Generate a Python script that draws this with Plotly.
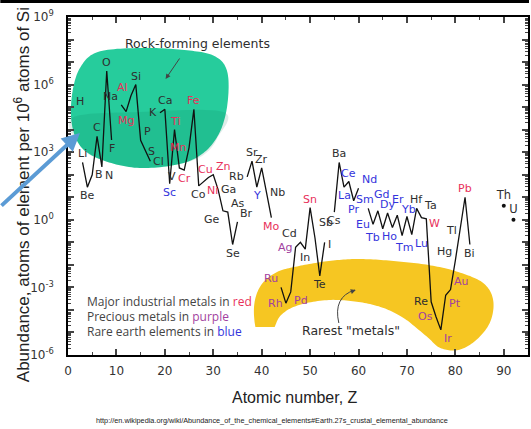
import plotly.graph_objects as go
import numpy as np

# ---------------- data (atoms per 10^6 atoms of Si) ----------------
symbols = ["H","Li","Be","B","C","N","O","F",
           "Na","Mg","Al","Si","P","S","Cl",
           "K","Ca","Sc","Ti","V","Cr","Mn","Fe","Co","Ni","Cu","Zn","Ga","Ge","As","Se","Br",
           "Rb","Sr","Y","Zr","Nb","Mo",
           "Ru","Rh","Pd","Ag","Cd","In","Sn","Sb","Te","I",
           "Cs","Ba","La","Ce","Pr","Nd",
           "Sm","Eu","Gd","Tb","Dy","Ho","Er","Tm","Yb","Lu","Hf","Ta","W","Re","Os","Ir","Pt","Au","Hg","Tl","Pb","Bi"]
atomic_numbers = [1,3,4,5,6,7,8,9,
                  11,12,13,14,15,16,17,
                  19,20,21,22,23,24,25,26,27,28,29,30,31,32,33,34,35,
                  37,38,39,40,41,42,
                  44,45,46,47,48,49,50,51,52,53,
                  55,56,57,58,59,60,
                  62,63,64,65,66,67,68,69,70,71,72,73,74,75,76,77,78,79,80,81,82,83]
abundance = [1.8e5,350,28,100,5000,220,4.0e6,3500,
             1.25e5,6.3e4,3.2e5,1.0e6,3400,1100,400,
             5.6e4,8.0e4,40,1.0e4,200,160,1600,8.0e4,32,50,75,100,22,2.5,2.2,0.08,0.8,
             80,400,28,200,16,1.25,
             1.0e-3,2.0e-4,6.3e-4,0.06,0.1,0.05,3.5,0.16,3.2e-3,0.1,
             2.2,350,28,50,7,25,
             3.2,0.63,2.5,0.4,2.0,0.45,1.6,0.2,1.4,0.22,3.2,1.25,1.1,2.3e-4,5e-5,1.3e-5,4.5e-4,8e-4,0.016,0.35,10,0.08]
label_pos = ["middle right","top center","bottom center","middle right","top center","bottom right","top center","bottom center",
             "top left","bottom center","top left","top center","top right","middle right","middle right",
             "middle left","top center","bottom center","top center","bottom left","bottom center","middle left","top center",
             "bottom center","bottom right","top center","top right","middle right","bottom left","top right","bottom center","top right",
             "middle left","top center","bottom center","top center","middle right","bottom center",
             "top left","middle left","bottom right","middle left","top left","bottom center","top center","top right","bottom center","middle right",
             "bottom center","top center","bottom center","top center","bottom center","top right",
             "top center","middle left","top center","bottom left","top center","bottom center","top center","bottom center","top center",
             "bottom right","top center","top right","middle right","middle left","middle left","bottom right","bottom right","top right",
             "top left","middle left","top center","bottom center"]
# extra pixel nudges for crowded labels (screen px, +x right, +y down)
label_nudge = {"Gd": (4, -8), "Sm": (-3, 0), "Er": (1, -7), "Yb": (2, 1), "Cu": (-3, 0), "Ho": (-3, 0),
               "Tm": (2, 3), "Sb": (1, -7), "I": (0, 2), "Ta": (0, -4), "W": (0, 5)}

red_metals = ["Mg","Al","Ti","Cr","Mn","Fe","Ni","Cu","Zn","Mo","Sn","W","Pb"]
precious = ["Ru","Rh","Pd","Ag","Os","Ir","Pt","Au"]
rare_earth = ["Sc","Y","La","Ce","Pr","Nd","Sm","Eu","Gd","Tb","Dy","Ho","Er","Tm","Yb","Lu"]

actinide_symbols = ["Th","U"]
actinide_z = [90,92]
actinide_abundance = [4.2,1.0]

RED, PURPLE, BLUE, GREY = "#e8305a", "#a23fa0", "#3434dc", "#2e2e2e"

def col(s):
    if s in red_metals: return RED
    if s in precious: return PURPLE
    if s in rare_earth: return BLUE
    return GREY

# line with gaps at missing elements (H stays isolated -> text only)
zl, yl = [], []
prev = None
for z, v in zip(atomic_numbers, abundance):
    if prev is not None and z != prev + 1:
        zl.append(None); yl.append(None)
    zl.append(z); yl.append(v)
    prev = z

# ---------------- pixel helpers for decorations ----------------
L, R, T, B = 68, 530, 17, 355
def px(x): return (x - L) / (R - L)
def py(y): return (B - y) / (B - T)

def smooth_path(pts, n=14):
    pts = np.array(pts, dtype=float)
    N = len(pts)
    out = []
    for i in range(N):
        p0, p1, p2, p3 = pts[i-1], pts[i], pts[(i+1) % N], pts[(i+2) % N]
        for t in np.linspace(0, 1, n, endpoint=False):
            t2, t3 = t*t, t*t*t
            p = 0.5*((2*p1) + (-p0+p2)*t + (2*p0-5*p1+4*p2-p3)*t2 + (-p0+3*p1-3*p2+p3)*t3)
            out.append(p)
    return "M " + " L ".join(f"{px(p[0]):.4f},{py(p[1]):.4f}" for p in out) + " Z"

green_pts = [(98,52),(140,48),(185,50),(215,56),(228,72),(228,105),(220,133),(204,153),(180,164),
             (140,168),(105,161),(82,148),(72,125),(72,95),(80,68)]
green_low = [(72,118),(140,112),(224,112),(218,138),(204,155),(180,164),(140,168),(105,161),(82,148)]
yellow_pts = [(257,330),(255,305),(262,285),(278,272),(300,266),(330,261),(360,259),(395,261),
              (430,265),(460,272),(485,283),(495,300),(492,322),(478,340),(460,350),(442,348),
              (430,338),(418,328),(405,318),(385,308),(360,302),(330,300),(300,305),(282,315),(274,330),(266,340)]

fig = go.Figure()

fig.add_trace(go.Scatter(x=zl, y=yl, mode="lines", line=dict(color="#111111", width=1.3),
                         hoverinfo="skip", showlegend=False))
fig.add_trace(go.Scatter(x=actinide_z, y=actinide_abundance, mode="markers+text",
                         marker=dict(color="#111111", size=4), text=actinide_symbols,
                         textposition="top center", textfont=dict(family="DejaVu Sans", size=11.5, color=GREY),
                         showlegend=False))

shapes = [
    dict(type="path", xref="paper", yref="paper", path=smooth_path(green_pts), layer="below",
         fillcolor="rgb(38,204,156)", line=dict(width=0)),
    dict(type="path", xref="paper", yref="paper", path=smooth_path(green_low), layer="below",
         fillcolor="rgba(0,110,80,0.13)", line=dict(width=0)),
    dict(type="path", xref="paper", yref="paper", path=smooth_path(yellow_pts), layer="below",
         fillcolor="rgb(246,198,34)", line=dict(width=0)),
    dict(type="rect", xref="paper", yref="paper", x0=px(250), x1=px(412), y0=py(352), y1=py(327),
         layer="below", fillcolor="white", line=dict(width=0)),
    dict(type="path", xref="paper", yref="paper",
         path=f"M {px(340)},{py(323)} Q {px(334)},{py(297)} {px(356)},{py(290)}",
         line=dict(color="#444", width=1), layer="above"),
    dict(type="rect", xref="paper", yref="paper", x0=px(0), x1=px(531), y0=py(3), y1=py(0),
         fillcolor="black", line=dict(width=0), layer="above"),
]

ann = []
# element labels anchored to each data point (log axis -> log10 of value), placed like textposition
for s, z, v, pos in zip(symbols, atomic_numbers, abundance, label_pos):
    vert, horiz = pos.split()
    xanchor = {"center": "center", "right": "left", "left": "right"}[horiz]
    yanchor = {"middle": "middle", "top": "bottom", "bottom": "top"}[vert]
    xs = {"center": 0, "right": 2, "left": -2}[horiz]
    ys = {"middle": 0, "top": 1, "bottom": -1}[vert]
    ndx, ndy = label_nudge.get(s, (0, 0))
    ann.append(dict(xref="x", yref="y", x=z, y=float(np.log10(v)), text=s, showarrow=False,
                    xshift=xs + ndx, yshift=ys - ndy, xanchor=xanchor, yanchor=yanchor,
                    borderpad=0, font=dict(family="DejaVu Sans", size=11, color=col(s))))

ann += [
    dict(xref="paper", yref="paper", x=px(296), y=py(397), text="Atomic number, Z", showarrow=False,
         font=dict(family="Liberation Sans", size=16, color="#222"), xanchor="center", yanchor="middle"),
    dict(xref="paper", yref="paper", x=px(22), y=py(195), text="Abundance, atoms of element per 10<sup>6</sup> atoms of Si",
         showarrow=False, textangle=-90, font=dict(family="Liberation Sans", size=17, color="#222"),
         xanchor="center", yanchor="middle"),
    dict(xref="paper", yref="paper", x=px(273), y=py(420),
         text="http://en.wikipedia.org/wiki/Abundance_of_the_chemical_elements#Earth.27s_crustal_elemental_abundance",
         showarrow=False, font=dict(family="Liberation Sans", size=7.3, color="#222"), xanchor="center", yanchor="middle"),
    dict(xref="paper", yref="paper", x=px(198), y=py(44), text="Rock-forming elements", showarrow=False,
         font=dict(family="DejaVu Sans", size=12.5, color=GREY), xanchor="center", yanchor="middle"),
    dict(xref="paper", yref="paper", x=px(352), y=py(330), text='Rarest "metals"', showarrow=False,
         font=dict(family="DejaVu Sans", size=12.5, color=GREY), xanchor="center", yanchor="middle"),
    dict(xref="paper", yref="paper", x=px(85), y=py(301), xanchor="left", yanchor="middle", showarrow=False,
         text=f"Major industrial metals in <span style='color:{RED}'>red</span>",
         font=dict(family="Open Sans", size=12, color="#444")),
    dict(xref="paper", yref="paper", x=px(85), y=py(316), xanchor="left", yanchor="middle", showarrow=False,
         text=f"Precious metals in <span style='color:{PURPLE}'>purple</span>",
         font=dict(family="Open Sans", size=12, color="#444")),
    dict(xref="paper", yref="paper", x=px(85), y=py(331), xanchor="left", yanchor="middle", showarrow=False,
         text=f"Rare earth elements in <span style='color:{BLUE}'>blue</span>",
         font=dict(family="Open Sans", size=12, color="#444")),
    dict(xref="paper", yref="paper", x=px(80), y=py(133), ax=-82, ay=74, text="", showarrow=True,
         arrowhead=2, arrowsize=0.9, arrowwidth=4, arrowcolor="#5b9bd5"),
    dict(xref="paper", yref="paper", x=px(166), y=py(79), ax=15, ay=-22, text="", showarrow=True,
         arrowhead=2, arrowsize=1, arrowwidth=1, arrowcolor="#444"),
    dict(xref="paper", yref="paper", x=px(357), y=py(290), ax=-6, ay=2, text="", showarrow=True,
         arrowhead=2, arrowsize=1, arrowwidth=1, arrowcolor="#444"),
]

major_y = [10.0**k for k in range(-6, 10)]
major_y_text = [f"10<sup>{k}</sup>" if k % 3 == 0 else "" for k in range(-6, 10)]
minor_y = [m*10.0**k for k in range(-6, 9) for m in range(2, 10)]

fig.update_layout(
    width=531, height=429,
    margin=dict(l=L, r=531-R, t=T, b=429-B),
    paper_bgcolor="white", plot_bgcolor="rgba(0,0,0,0)",
    shapes=shapes, annotations=ann, showlegend=False,
    xaxis=dict(range=[0, 95], tickmode="linear", tick0=0, dtick=10, ticks="inside", ticklen=6, tickwidth=1.5,
               showline=True, linecolor="black", linewidth=1.5, mirror="ticks", showgrid=False, zeroline=False,
               tickfont=dict(family="DejaVu Sans", size=12, color="#333"), ticklabelstandoff=4,
               minor=dict(tick0=0, dtick=5, ticks="inside", ticklen=3, tickwidth=1, showgrid=False)),
    yaxis=dict(type="log", range=[-6, 9], tickmode="array", tickvals=major_y, ticktext=major_y_text,
               ticks="inside", ticklen=6, tickwidth=1.5, showline=True, linecolor="black", linewidth=1.5,
               mirror="ticks", showgrid=False, zeroline=False, ticklabelstandoff=10,
               tickfont=dict(family="DejaVu Sans", size=12, color="#333"),
               minor=dict(tickmode="array", tickvals=minor_y, ticks="inside", ticklen=3, tickwidth=1, showgrid=False)),
)

fig.write_html("out.html")
